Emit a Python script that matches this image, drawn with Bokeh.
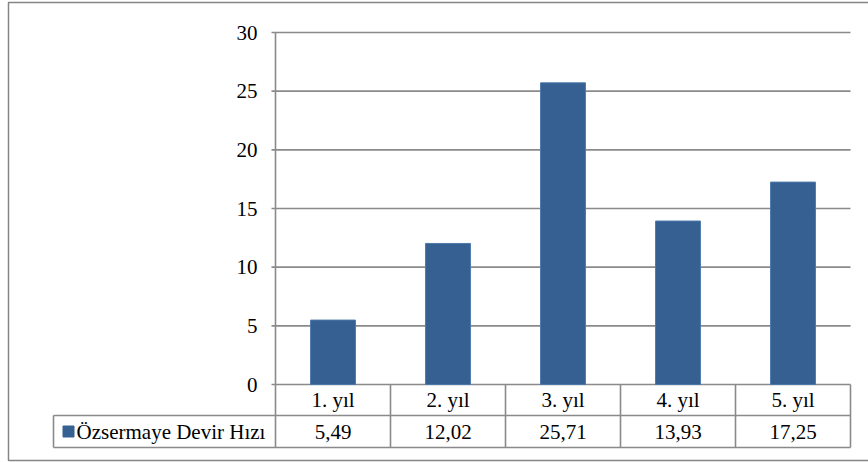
from bokeh.plotting import figure
from bokeh.models import Range1d
from bokeh.core.properties import value
from bokeh.embed import file_html
from bokeh.resources import INLINE

# Data
categories = ["1. yıl", "2. yıl", "3. yıl", "4. yıl", "5. yıl"]
series_name = "Özsermaye Devir Hızı"
turnover = [5.49, 12.02, 25.71, 13.93, 17.25]
y_ticks = [0, 5, 10, 15, 20, 25, 30]

# Layout (pixels): canvas size and plot area inside it
W, H = 868, 462
PL, PR, PT, PB = 275, 850, 32, 384
ROW1_B, ROW2_B = 415, 447      # bottoms of the two table rows
LEG_L = 53                     # left edge of the legend cell

n = len(categories)
ymax = y_ticks[-1]
sx = (PR - PL) / n
sy = (PB - PT) / ymax


def dx(px):
    return (px - PL) / sx


def dy(py):
    return (PB - py) / sy


FONT = value("'Liberation Serif', 'Times New Roman', serif")
FSIZE = "21px"
GRID = "#8a8a8a"
BAR = "#376092"

p = figure(width=W, height=H,
           x_range=Range1d(dx(0), dx(W)), y_range=Range1d(dy(H), dy(0)),
           x_axis_location=None, y_axis_location=None,
           output_backend="svg", toolbar_location=None, min_border=0)
p.grid.visible = False
p.outline_line_color = None
p.background_fill_color = "white"
p.border_fill_color = "white"

# Outer chart border
p.quad(left=dx(8), right=dx(W + 20), top=dy(2), bottom=dy(460),
       fill_color=None, line_color="#858585", line_width=1.5)

# Horizontal gridlines with small outward ticks
p.segment(x0=[dx(PL - 4)] * len(y_ticks), x1=[n] * len(y_ticks),
          y0=y_ticks, y1=y_ticks, line_color=GRID, line_width=1.6)

# Y tick labels
p.text(x=[dx(257)] * len(y_ticks), y=y_ticks, text=[str(t) for t in y_ticks],
       text_align="right", text_baseline="middle",
       text_font=FONT, text_font_size=FSIZE, text_color="black")

# Bars
xs = [i + 0.5 for i in range(n)]
p.vbar(x=xs, top=turnover, bottom=0, width=0.39,
       fill_color=BAR, line_color="#4b78ab", line_width=1)

# Data table below the plot
y1, y2 = dy(ROW1_B), dy(ROW2_B)
# horizontal rules
p.segment(x0=[dx(LEG_L), dx(LEG_L)], x1=[n, n], y0=[y1, y2], y1=[y1, y2],
          line_color=GRID, line_width=1.6)
# value axis line continuing through the table
p.segment(x0=[0], x1=[0], y0=[ymax], y1=[y2], line_color=GRID, line_width=1.6)
# column separators
cols = list(range(1, n + 1))
p.segment(x0=cols, x1=cols, y0=[0] * n, y1=[y2] * n,
          line_color=GRID, line_width=1.6)
# legend cell left edge
p.segment(x0=[dx(LEG_L)], x1=[dx(LEG_L)], y0=[y1], y1=[y2],
          line_color=GRID, line_width=1.6)

# category row
p.text(x=xs, y=[y1 / 2] * n, text=categories,
       text_align="center", text_baseline="middle",
       text_font=FONT, text_font_size=FSIZE, text_color="black")
# value row
labels = [f"{v:.2f}".replace(".", ",") for v in turnover]
ymid = (y1 + y2) / 2
p.text(x=xs, y=[ymid] * n, text=labels,
       text_align="center", text_baseline="middle",
       text_font=FONT, text_font_size=FSIZE, text_color="black")

# legend key and series name
p.scatter(x=[dx(68)], y=[ymid], marker="square", size=11,
          fill_color=BAR, line_color=BAR)
p.text(x=[dx(76)], y=[ymid], text=[series_name],
       text_align="left", text_baseline="middle",
       text_font=FONT, text_font_size=FSIZE, text_color="black")

open("out.html", "w").write(file_html(p, INLINE))
